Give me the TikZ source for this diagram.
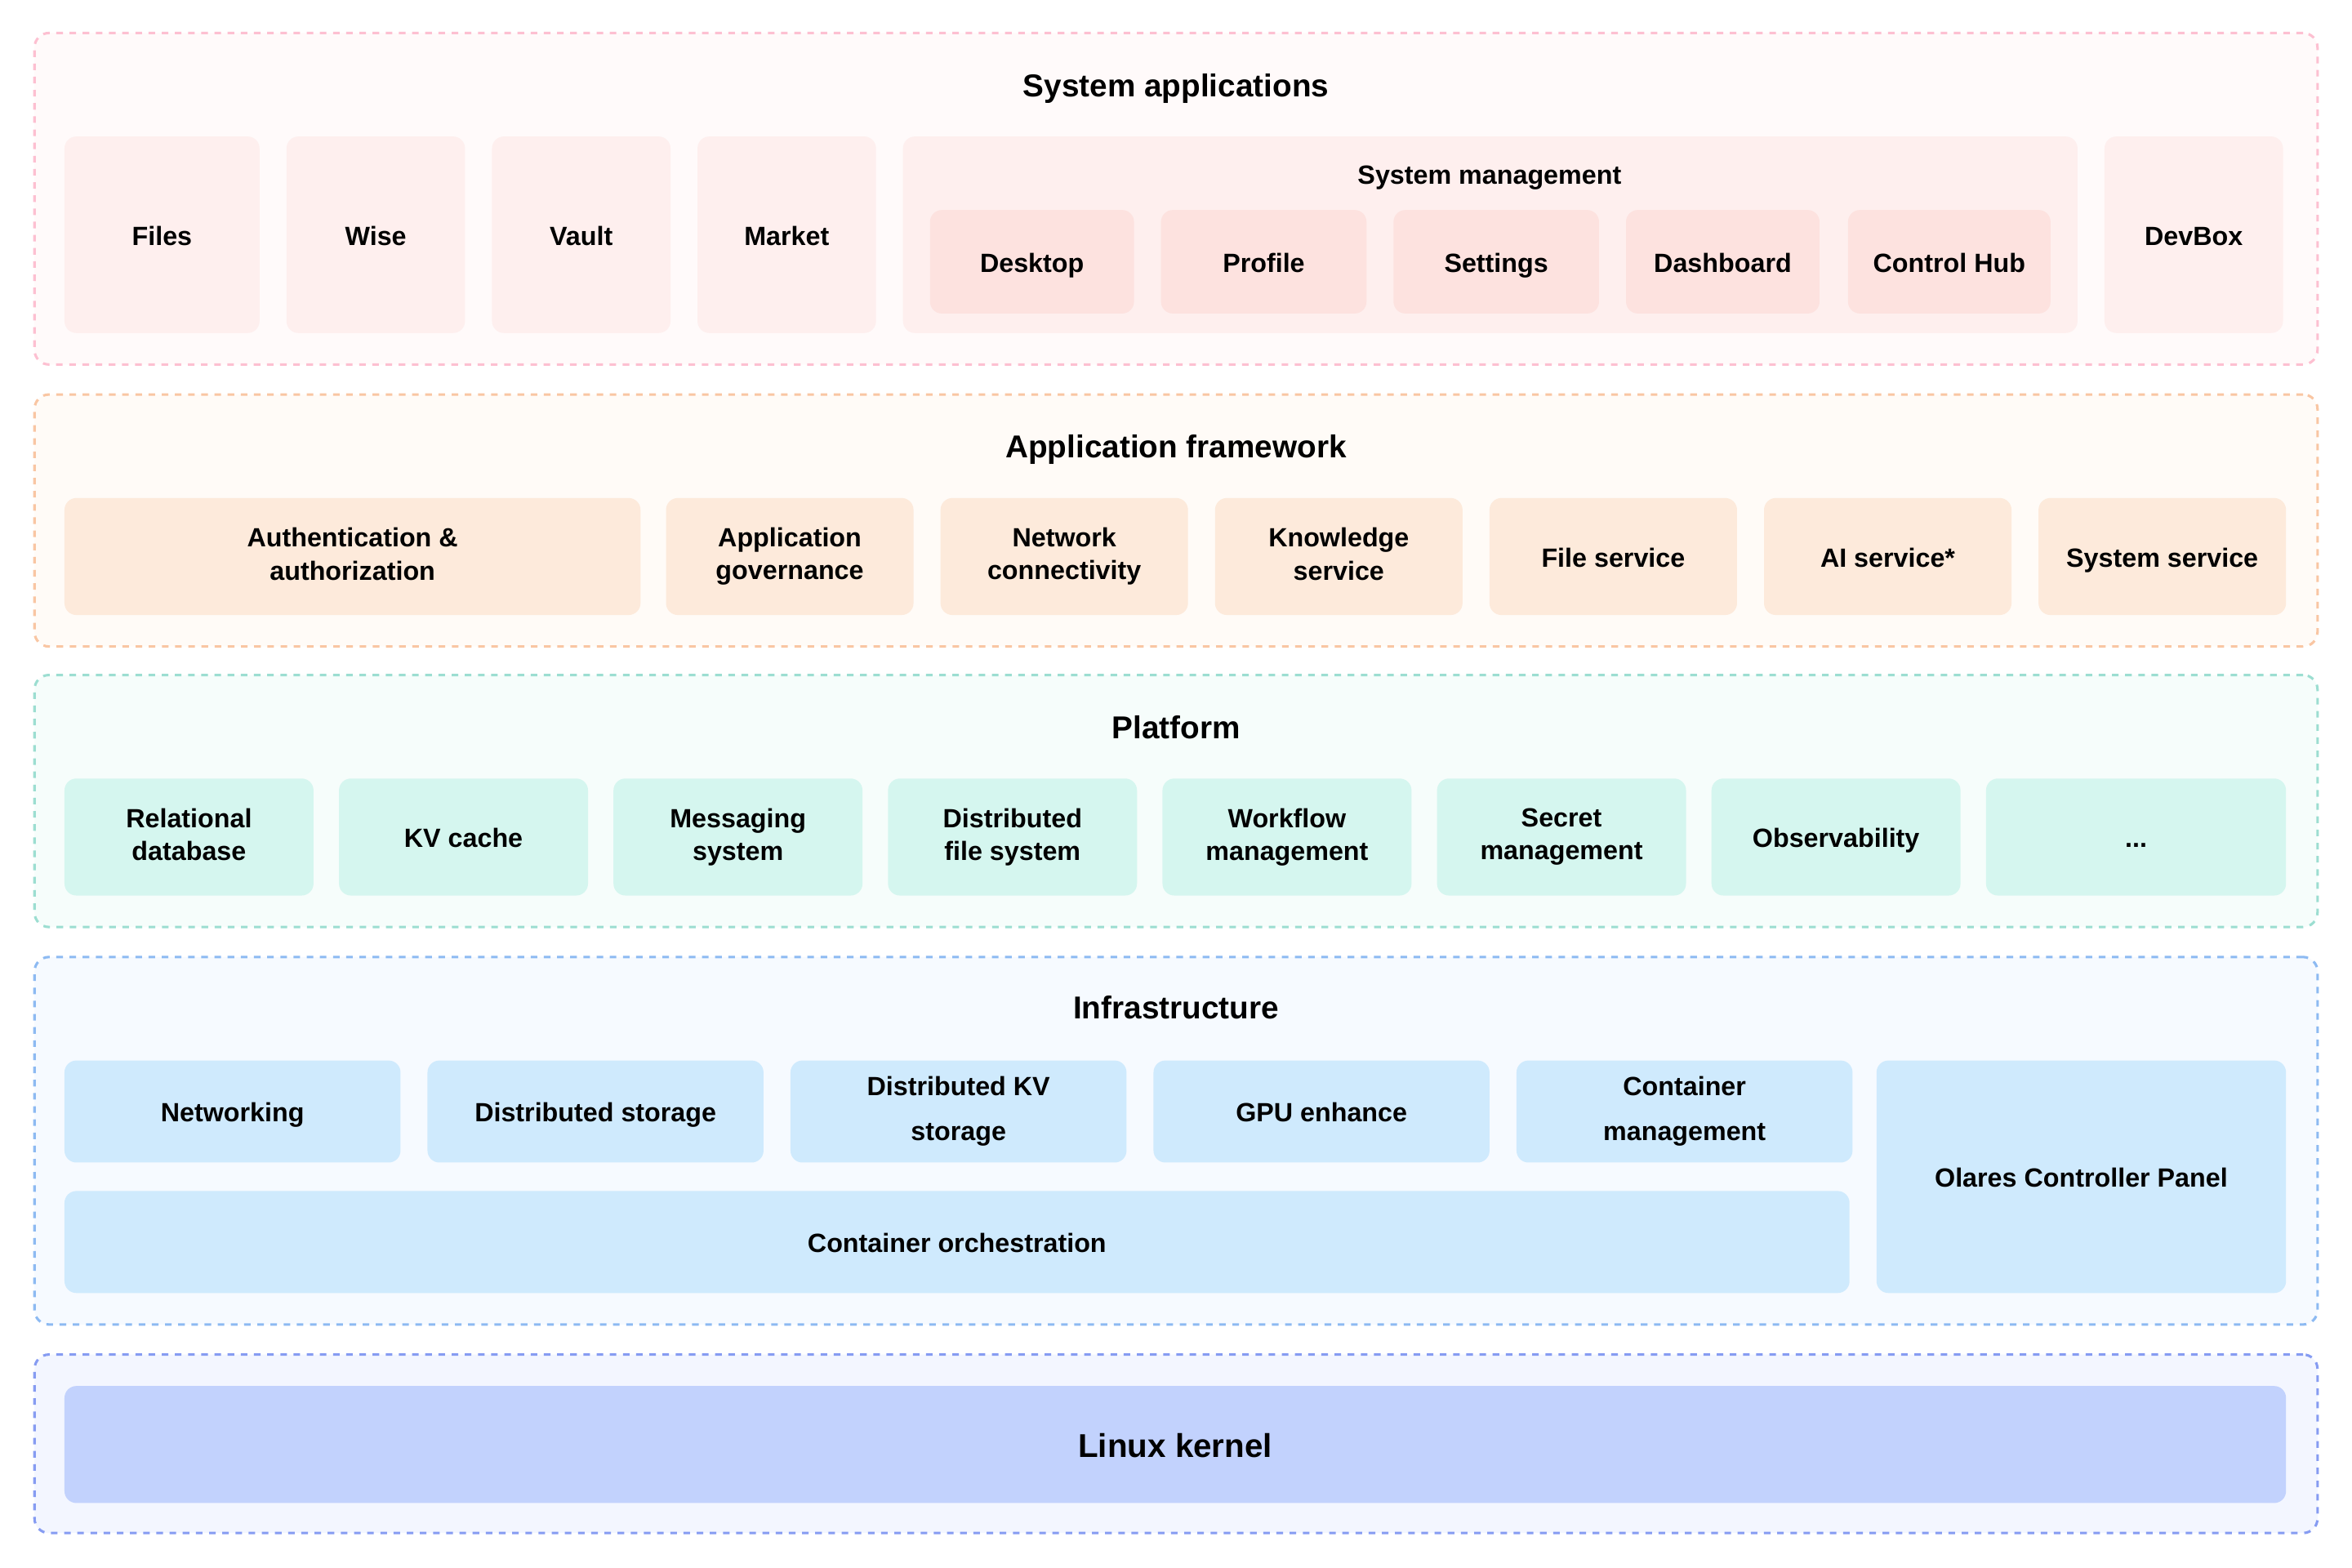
\documentclass[tikz,border=0pt]{standalone}
\usepackage{fontspec}
\setmainfont{Liberation Sans}
\usetikzlibrary{positioning}

\definecolor{appline}{HTML}{FDC0D1}
\definecolor{appbg}{HTML}{FFFAFA}
\definecolor{appbox}{HTML}{FEEFEE}
\definecolor{appsub}{HTML}{FDE2DF}
\definecolor{fwline}{HTML}{F9C6A3}
\definecolor{fwbg}{HTML}{FFFBF7}
\definecolor{fwbox}{HTML}{FDEADB}
\definecolor{platline}{HTML}{9CDED1}
\definecolor{platbg}{HTML}{F6FDFB}
\definecolor{platbox}{HTML}{D5F6EF}
\definecolor{infline}{HTML}{8DBAF2}
\definecolor{infbg}{HTML}{F6FAFF}
\definecolor{infbox}{HTML}{CFEAFD}
\definecolor{kerline}{HTML}{869CF2}
\definecolor{kerbg}{HTML}{F3F6FF}
\definecolor{kerbox}{HTML}{C2D2FD}

%// line box of fixed height and depth
\newcommand{\linebox}{\rule[-0.2em]{0pt}{1.2em}}

\tikzset{
	layer/.style={draw, rounded corners=5.5pt, line width=0.95pt, dash pattern=on 2.5pt off 2.5pt},
	item/.style={rounded corners=4.5pt, inner sep=0pt, outer sep=0pt, align=center,
		font=\bfseries\fontsize{10}{12.5}\selectfont,
		execute at begin node=\linebox, execute at end node=\linebox},
	layertitle/.style={font=\bfseries\fontsize{12}{14}\selectfont,
		execute at begin node=\linebox}
}

%// box from (x1,y1) to (x2,y2), in pixels of the layout
\newcommand{\blk}[7]{%
	\node[#1, minimum width={(#5-#3)*0.02cm}, minimum height={(#6-#4)*0.02cm}]
		(#2) at ({(#3+#5)/2},{(#4+#6)/2}) {#7};}

\begin{document}
\begin{tikzpicture}[x=0.02cm, y=-0.02cm]
	\useasboundingbox[fill=white] (0,0) rectangle (1568,1045);
	
	%// System applications
	\blk{layer, draw=appline, fill=appbg, outer sep=0pt}{applayer}{23}{22}{1545}{243}{}
	\node [layertitle] (apptitle) at (784,56) {System applications};
	\blk{item, fill=appbox}{files}{43}{91}{173}{222}{Files}
	\blk{item, fill=appbox}{wise}{191}{91}{310}{222}{Wise}
	\blk{item, fill=appbox}{vault}{328}{91}{447}{222}{Vault}
	\blk{item, fill=appbox}{market}{465}{91}{584}{222}{Market}
	\blk{item, fill=appbox}{sysmgmt}{602}{91}{1385}{222}{}
	\node [item] (sysmgmttitle) at (993,116) {System management};
	\blk{item, fill=appsub}{desktop}{620}{140}{756}{209}{Desktop}
	\blk{item, fill=appsub}{profile}{774}{140}{911}{209}{Profile}
	\blk{item, fill=appsub}{settings}{929}{140}{1066}{209}{Settings}
	\blk{item, fill=appsub}{dashboard}{1084}{140}{1213}{209}{Dashboard}
	\blk{item, fill=appsub}{controlhub}{1232}{140}{1367}{209}{Control Hub}
	\blk{item, fill=appbox}{devbox}{1403}{91}{1522}{222}{DevBox}
	
	%// Application framework
	\blk{layer, draw=fwline, fill=fwbg, outer sep=0pt}{fwlayer}{23}{263}{1545}{431}{}
	\node [layertitle] (fwtitle) at (784,297) {Application framework};
	\blk{item, fill=fwbox}{auth}{43}{332}{427}{410}{Authentication \&\\authorization}
	\foreach \i/\txt in {0/{Application\\governance}, 1/{Network\\connectivity},
		2/{Knowledge\\service}, 3/{File service}, 4/{AI service*}, 5/{System service}}
	{
		\pgfmathsetmacro{\xa}{444+183*\i}
		\pgfmathsetmacro{\xb}{\xa+165}
		\blk{item, fill=fwbox}{fw\i}{\xa}{332}{\xb}{410}{\txt}
	}
	
	%// Platform
	\blk{layer, draw=platline, fill=platbg, outer sep=0pt}{platlayer}{23}{450}{1545}{618}{}
	\node [layertitle] (plattitle) at (784,484) {Platform};
	\foreach \i/\txt in {0/{Relational\\database}, 1/{KV cache}, 2/{Messaging\\system},
		3/{Distributed\\file system}, 4/{Workflow\\management}, 5/{Secret\\management},
		6/{Observability}}
	{
		\pgfmathsetmacro{\xa}{43+183*\i}
		\pgfmathsetmacro{\xb}{\xa+166}
		\blk{item, fill=platbox}{plat\i}{\xa}{519}{\xb}{597}{\txt}
	}
	\blk{item, fill=platbox}{platmore}{1324}{519}{1524}{597}{...}
	
	%// Infrastructure
	\blk{layer, draw=infline, fill=infbg, outer sep=0pt}{inflayer}{23}{638}{1545}{883}{}
	\node [layertitle] (inftitle) at (784,671) {Infrastructure};
	\foreach \i/\txt in {0/{Networking}, 1/{Distributed storage}, 2/{Distributed KV\\storage},
		3/{GPU enhance}, 4/{Container\\management}}
	{
		\pgfmathsetmacro{\xa}{43+242*\i}
		\pgfmathsetmacro{\xb}{\xa+224}
		\blk{item, fill=infbox, font=\bfseries\fontsize{10}{17}\selectfont}{inf\i}{\xa}{707}{\xb}{775}{\txt}
	}
	\blk{item, fill=infbox}{orch}{43}{794}{1233}{862}{Container orchestration}
	\blk{item, fill=infbox}{olares}{1251}{707}{1524}{862}{Olares Controller Panel}
	
	%// Linux kernel
	\blk{layer, draw=kerline, fill=kerbg, outer sep=0pt}{kerlayer}{23}{903}{1545}{1022}{}
	\blk{item, fill=kerbox, font=\bfseries\fontsize{12.5}{15}\selectfont}{kernel}{43}{924}{1524}{1002}{Linux kernel}
\end{tikzpicture}
\end{document}
